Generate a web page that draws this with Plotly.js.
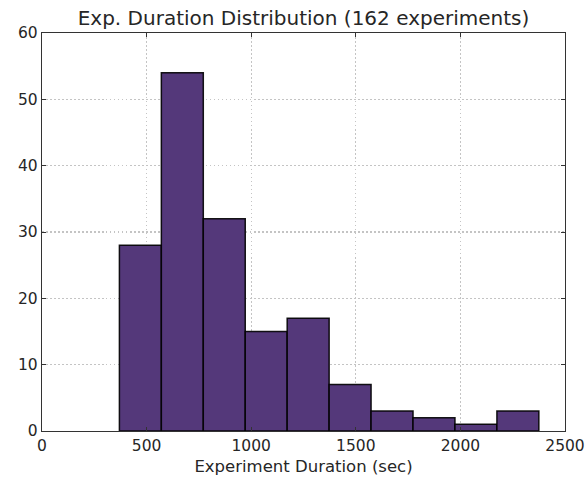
<!DOCTYPE html>
<html>
<head>
<meta charset="utf-8">
<script src="https://cdn.plot.ly/plotly-3.0.1.min.js"></script>
<style>html,body{margin:0;padding:0;background:#fff;}</style>
</head>
<body>
<div id="chart" style="width:588px;height:479px;"></div>
<script>
// Histogram bin edges (seconds) and counts per bin
const binEdges = [370, 570.5, 771, 971.5, 1172, 1372.5, 1573, 1773.5, 1974, 2174.5, 2375];
const counts = [28, 54, 32, 15, 17, 7, 3, 2, 1, 3];
const xTicks = [0, 500, 1000, 1500, 2000, 2500];
const yTicks = [0, 10, 20, 30, 40, 50, 60];

const centers = counts.map((_, i) => (binEdges[i] + binEdges[i + 1]) / 2);
const widths = counts.map((_, i) => binEdges[i + 1] - binEdges[i]);

const trace = {
  type: 'bar',
  x: centers,
  y: counts,
  width: widths,
  marker: {color: 'rgb(84,56,122)', line: {color: 'rgba(0,0,0,0.9)', width: 1.5}},
  hoverinfo: 'x+y'
};

const font = {family: 'DejaVu Sans', color: '#262626'};
const layout = {
  width: 588, height: 479,
  margin: {l: 42, r: 23, t: 33, b: 48},
  paper_bgcolor: '#fff', plot_bgcolor: '#fff',
  showlegend: false,
  font: Object.assign({size: 15}, font),
  title: {text: 'Exp. Duration Distribution (162 experiments)', font: Object.assign({size: 20}, font),
          x: 0.5, xanchor: 'center', xref: 'paper', y: 0.962, yanchor: 'middle'},
  xaxis: {
    range: [0, 2500], tickvals: xTicks, ticktext: xTicks.map(String),
    ticks: 'inside', ticklen: 4, tickcolor: '#333', mirror: 'ticks',
    showline: true, linecolor: '#333', linewidth: 1.2,
    showgrid: true, gridcolor: '#c4c4c4', griddash: '1.5px,2.5px', gridwidth: 1.2,
    zeroline: false, tickfont: Object.assign({size: 15.5}, font),
    title: {text: 'Experiment Duration (sec)', font: Object.assign({size: 16.5}, font), standoff: 6}
  },
  yaxis: {
    range: [0, 60], tickvals: yTicks, ticktext: yTicks.map(String),
    ticks: 'inside', ticklen: 4, tickcolor: '#333', mirror: 'ticks',
    showline: true, linecolor: '#333', linewidth: 1.2,
    showgrid: true, gridcolor: '#c4c4c4', griddash: '1.5px,2.5px', gridwidth: 1.2,
    zeroline: false, tickfont: Object.assign({size: 15.5}, font)
  },
  bargap: 0
};

Plotly.newPlot('chart', [trace], layout, {displayModeBar: false, staticPlot: true});
</script>
</body>
</html>
